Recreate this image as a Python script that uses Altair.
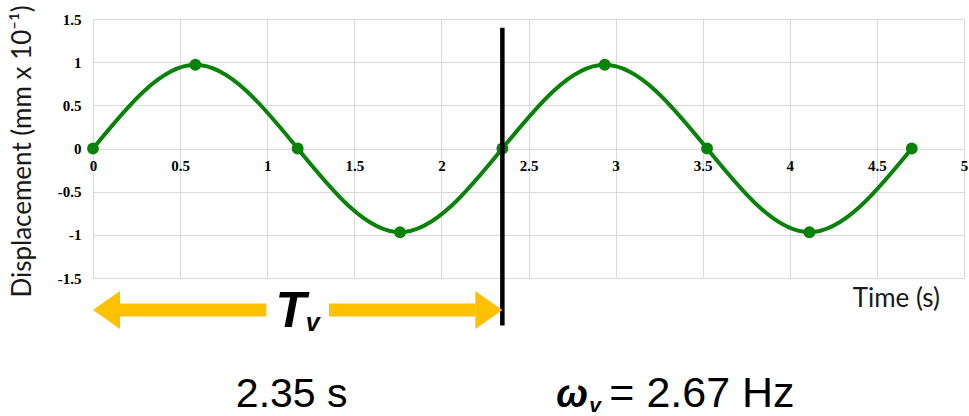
import math
import altair as alt
import pandas as pd

# Sampled displacement of the oscillation (zero crossings and extrema)
time_s = [0, 0.5875, 1.175, 1.7625, 2.35, 2.9375, 3.525, 4.1125, 4.7]
displacement = [0, 0.97, 0, -0.97, 0, 0.97, 0, -0.97, 0]

# Measured period of the vibration
period_s = 2.35
omega_hz = 2 * math.pi / period_s

x_ticks = [0, 0.5, 1, 1.5, 2, 2.5, 3, 3.5, 4, 4.5, 5]
y_ticks = [-1.5, -1, -0.5, 0, 0.5, 1, 1.5]

GREEN = "#088208"
GOLD = "#FFC000"
GRID = "#D9D9D9"
SERIF = "Liberation Serif"
SANS = "Liberation Sans"
TITLE_FONT = "Lato"

W, H = 871, 259
PX_PER_UNIT = W / 5.0

df = pd.DataFrame({"t": time_s, "d": displacement})

x_scale = alt.Scale(domain=[0, 5], nice=False, zero=False)
y_scale = alt.Scale(domain=[-1.5, 1.5], nice=False)

x_axis = alt.Axis(
    values=x_ticks, title=None, orient="bottom", offset=-(H / 2),
    domain=False, ticks=False, tickSize=0, labelPadding=10,
    labelFont=SERIF, labelFontWeight="bold", labelFontSize=15, labelColor="#000000",
    labelFlush=False, labelOverlap=False, labelExpr="toString(datum.value)",
    grid=True, gridColor=GRID, gridWidth=1,
)
y_axis = alt.Axis(
    values=y_ticks, title="Displacement (mm x 10⁻¹)",
    titleFont=TITLE_FONT, titleFontSize=26, titleFontWeight="normal", titleColor="#1A1A1A",
    titleAngle=270, titleAlign="center", titleBaseline="middle", titleX=-71, titleY=132,
    domain=False, ticks=False, tickSize=0, labelPadding=12,
    labelFont=SERIF, labelFontWeight="bold", labelFontSize=15, labelColor="#000000",
    labelFlush=False, labelOverlap=False, labelExpr="toString(datum.value)",
    grid=True, gridColor=GRID, gridWidth=1,
)

base = alt.Chart(df).encode(
    x=alt.X("t:Q", scale=x_scale, axis=x_axis),
    y=alt.Y("d:Q", scale=y_scale, axis=y_axis),
)

curve = base.mark_line(color=GREEN, strokeWidth=4, interpolate="natural")
dots = base.mark_circle(color=GREEN, size=140, opacity=1)

# Vertical marker at the end of one period
marker = alt.Chart(pd.DataFrame({"t": [period_s], "top": [1.4], "bottom": [-2.05]})).mark_rule(
    color="#000000", strokeWidth=4.5
).encode(x=alt.X("t:Q", scale=x_scale), y=alt.Y("top:Q", scale=y_scale), y2="bottom:Q")

# Double arrow spanning the period, broken around its label
mid = period_s / 2
head_len = 27 / PX_PER_UNIT
gap = 0.18
arrow_y = alt.value(291)
shafts = alt.Chart(pd.DataFrame({
    "a": [0 + head_len, mid + gap],
    "b": [mid - gap, period_s - head_len],
})).mark_rule(color=GOLD, strokeWidth=13, strokeCap="butt").encode(
    x=alt.X("a:Q", scale=x_scale), x2="b:Q", y=arrow_y
)
head_left = alt.Chart(pd.DataFrame({"t": [0]})).mark_point(
    shape="M0,0L1.42,-1L1.42,1Z", filled=True, color=GOLD, opacity=1, size=1444, strokeWidth=0
).encode(x=alt.X("t:Q", scale=x_scale), y=arrow_y)
head_right = alt.Chart(pd.DataFrame({"t": [period_s]})).mark_point(
    shape="M0,0L-1.42,-1L-1.42,1Z", filled=True, color=GOLD, opacity=1, size=1444, strokeWidth=0
).encode(x=alt.X("t:Q", scale=x_scale), y=arrow_y)


def label(x, text, y, size, dx=0, align="center", weight="normal", style="normal", font=SANS, color="#000000"):
    return alt.Chart(pd.DataFrame({"t": [x], "s": [text]})).mark_text(
        font=font, fontSize=size, fontWeight=weight, fontStyle=style, align=align,
        baseline="alphabetic", dx=dx, color=color,
    ).encode(x=alt.X("t:Q", scale=x_scale), y=alt.value(y), text="s:N")


t_sym = label(mid, "T", 308, 50, dx=-7, weight="bold", style="italic")
t_sub = label(mid, "v", 312, 25, dx=15, weight="bold", style="italic")
period_text = label(mid, f"{period_s:.2f} s", 388, 41, dx=-6)
omega_sym = label(period_s, "ω", 388, 38, dx=54, align="left", weight="bold", style="italic")
omega_sub = label(period_s, "v", 393, 21, dx=87, align="left", weight="bold", style="italic")
omega_text = label(period_s, f"= {omega_hz:.2f} Hz", 388, 43, dx=107, align="left")
x_title = label(5, "Time (s)", 288, 26, dx=-24, align="right", font=TITLE_FONT, color="#1A1A1A")

chart = alt.layer(
    curve, dots, marker, shafts, head_left, head_right,
    t_sym, t_sub, period_text, omega_sym, omega_sub, omega_text, x_title,
).properties(
    width=W, height=H,
    autosize=alt.AutoSizeParams(type="none"),
    padding={"left": 93, "top": 19, "right": 5, "bottom": 138},
    background="#FFFFFF",
).configure_view(stroke=None)

chart.save("out.html", embed_options={"renderer": "svg", "actions": False})
